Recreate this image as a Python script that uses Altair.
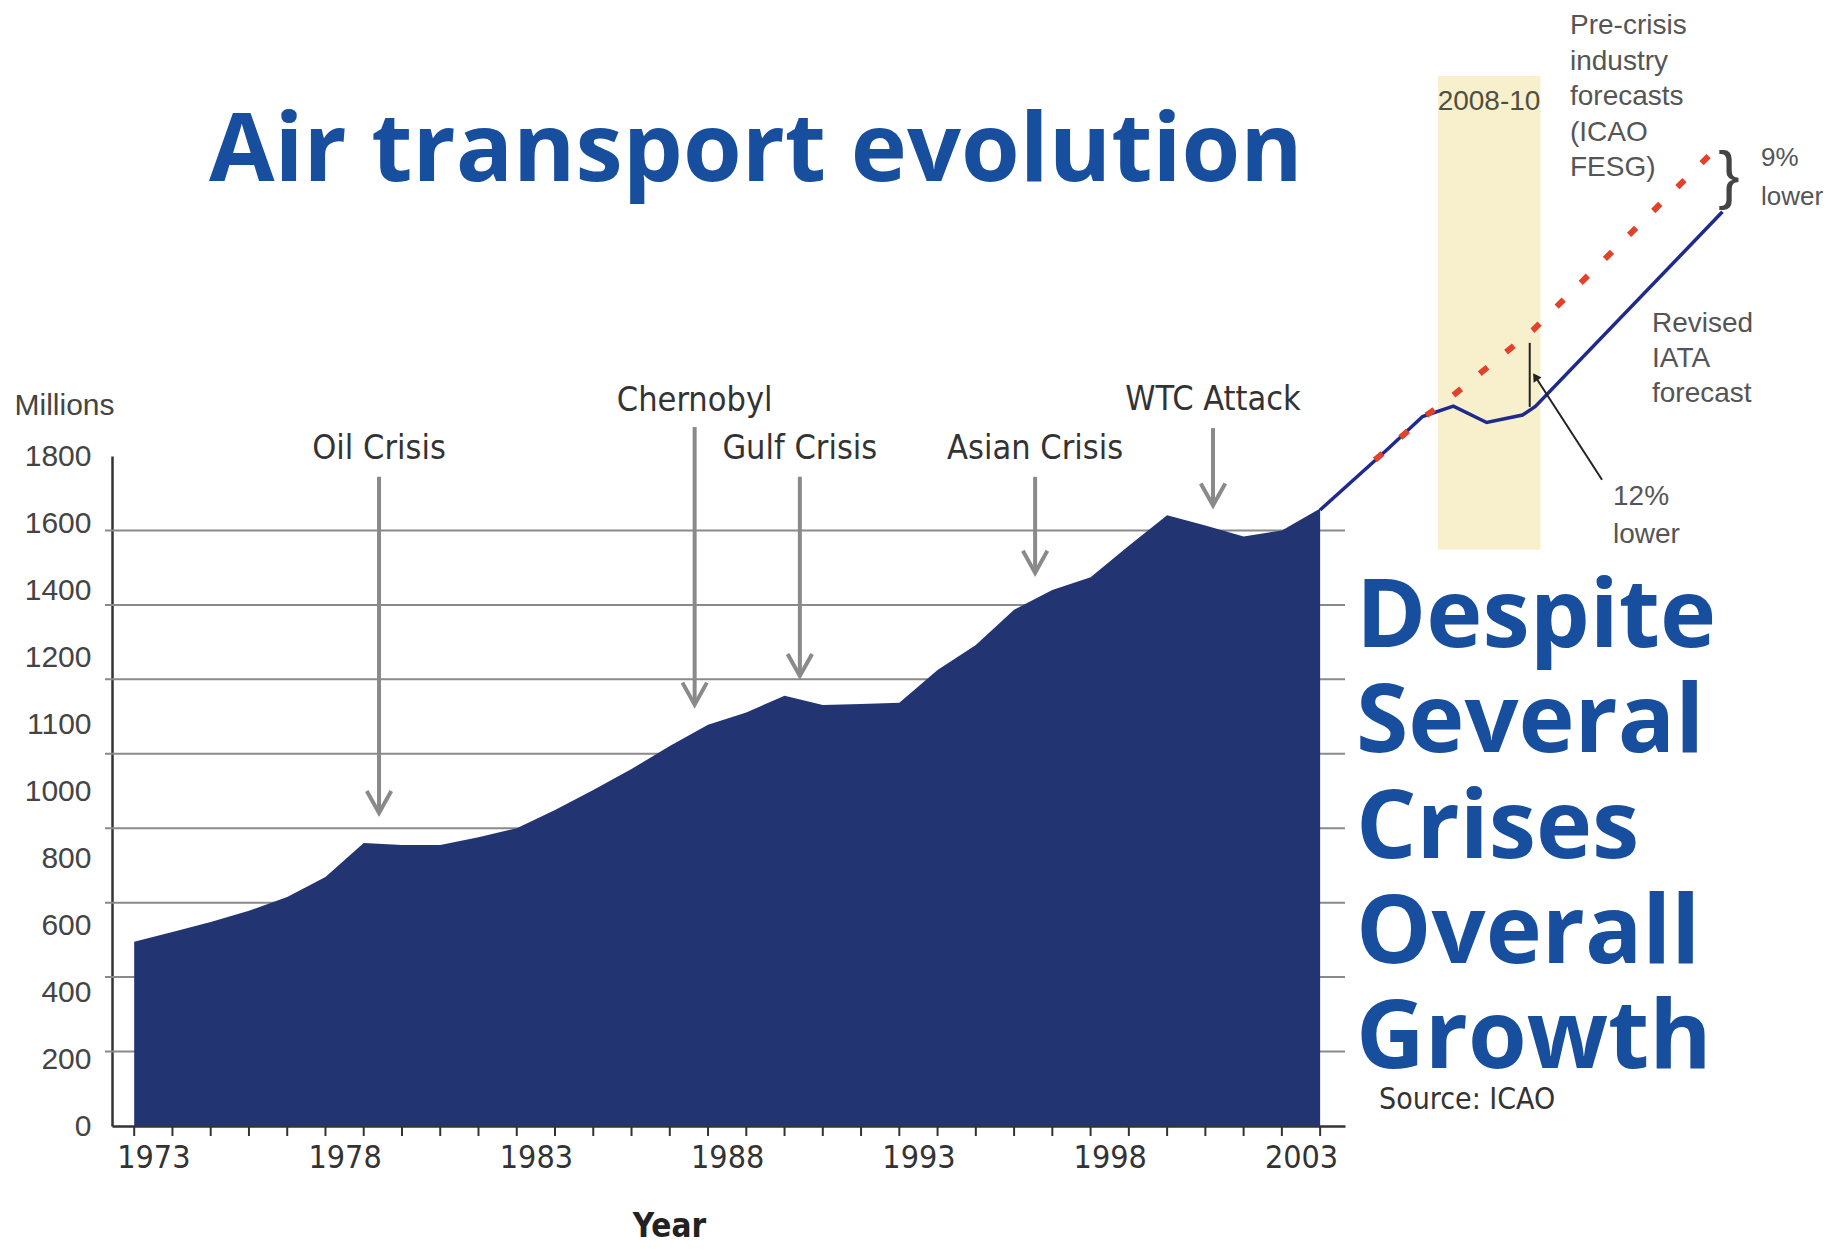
import altair as alt
import pandas as pd

# ---------------- data ----------------
YEARS = list(range(1973, 2005))
PASSENGERS = [495, 521, 548, 578, 615, 669, 760, 755, 755, 776, 800, 849, 903, 959,
              1021, 1078, 1111, 1156, 1131, 1134, 1137, 1225, 1292, 1387, 1440, 1474,
              1559, 1641, 1613, 1584, 1600, 1659]

Y_TICK_LABELS = ['0', '200', '400', '600', '800', '1000', '1100', '1200', '1400', '1600', '1800']
GRID_VALUES = [200, 400, 600, 800, 1000, 1200, 1400, 1600]
X_LABEL_YEARS = [1973, 1978, 1983, 1988, 1993, 1998, 2003]

CRISIS_NAMES = ['Oil Crisis', 'Chernobyl', 'Gulf Crisis', 'Asian Crisis', 'WTC Attack']
CRISIS_X = [1979.4, 1987.65, 1990.4, 1996.55, 2001.2]
CRISIS_TEXT_Y = [1819, 1948, 1819, 1819, 1950]
CRISIS_ARROW_TOP = [1744, 1878, 1744, 1744, 1875]
CRISIS_ARROW_TIP = [841, 1132, 1209, 1486, 1667]

# forecast inset (its own year axis)
FC_BLUE_X = [2005.7, 2007.0, 2007.7, 2008.3, 2008.95, 2009.65, 2009.9, 2013.55]
FC_BLUE_Y = [1655, 1816, 1906, 1934, 1890, 1910, 1933, 2456]
FC_RED_X = [2006.77, 2007.7, 2008.2, 2009.86, 2013.37]
FC_RED_Y = [1789, 1902, 1952, 2139, 2618]
BAND_X = [2008, 2010]
BAND_Y = [1548, 2821]
BRACKET_X = [2009.79]
BRACKET_Y = [1932, 2104]
ARROW12_X = [2011.2, 2009.9]
ARROW12_Y = [1736, 2013]

TITLE = 'Air transport evolution'
SLOGAN = 'Despite\nSeveral\nCrises\nOverall\nGrowth'

# ---------------- styling ----------------
W, H = 1233, 670
X_MIN, X_MAX = 1972.42, 2004.65
PX_PER_YEAR = W / (X_MAX - X_MIN)
INSET_ANCHOR = 2007.08   # main-axis position of the inset's 2008
INSET_STRETCH = 1.34     # main-axis years per inset year
BLUE = '#184e9e'
NAVY = '#233473'
NARROW = 'Liberation Sans Narrow, Arial Narrow, DejaVu Sans Condensed, Liberation Sans, sans-serif'
SANS = 'Liberation Sans, Arial, sans-serif'
BOLD = 'Open Sans, DejaVu Sans, sans-serif'

yscale = alt.Scale(domain=[0, 1800], nice=False, zero=False)
xscale = alt.Scale(domain=[X_MIN, X_MAX], nice=False, zero=False)

label_expr_y = '[' + ','.join("'%s'" % s for s in Y_TICK_LABELS) + '][round(datum.value / 180)]'


def inset(field):
    return '%s + (datum.%s - 2008) * %s' % (INSET_ANCHOR, field, INSET_STRETCH)


df = pd.DataFrame({'year': YEARS, 'value': PASSENGERS})
grid_df = pd.DataFrame({'g': GRID_VALUES})
tick_df = pd.DataFrame({'t': YEARS})
crisis_df = pd.DataFrame({'name': CRISIS_NAMES, 'x': CRISIS_X, 'ty': CRISIS_TEXT_Y,
                          'top': CRISIS_ARROW_TOP, 'tip': CRISIS_ARROW_TIP})

grid = alt.Chart(grid_df).mark_rule(color='#8a8a8a', strokeWidth=2).encode(
    x=alt.value(-7), x2=alt.value(W),
    y=alt.Y('g:Q', scale=yscale))

# one tick mark per year below the x axis
year_ticks = alt.Chart(tick_df).mark_rule(color='#333', strokeWidth=2).encode(
    x=alt.X('t:Q', scale=xscale),
    y=alt.value(H), y2=alt.value(H + 10))

area = alt.Chart(df).mark_area(color=NAVY, opacity=1).encode(
    x=alt.X('year:Q', scale=xscale,
            axis=alt.Axis(values=X_LABEL_YEARS, format='d',
                          labelOffset=PX_PER_YEAR / 2,
                          grid=False, ticks=False,
                          domainColor='#333', domainWidth=2.5, labelFont=NARROW,
                          labelFontSize=32, labelColor='#333', labelPadding=16,
                          labelBaseline='top', labelFlush=False, labelOverlap=False,
                          title='Year', titleFont=NARROW, titleFontSize=33,
                          titleFontWeight='bold', titleColor='#222', titleX=557, titleY=100,
                          titleBaseline='middle', titleAlign='center')),
    y=alt.Y('value:Q', scale=yscale,
            axis=alt.Axis(values=[i * 180 for i in range(11)],
                          labelExpr=label_expr_y,
                          ticks=False, grid=False, domainColor='#333', domainWidth=2.5,
                          labelFont=SANS, labelFontSize=30, labelColor='#444',
                          labelPadding=21, labelOverlap=False, labelFlush=False,
                          title='Millions', titleAngle=0, titleX=-98, titleY=-51,
                          titleAlign='left', titleBaseline='middle', titleFont=SANS,
                          titleFontSize=30, titleFontWeight='normal', titleColor='#444')))

shafts = alt.Chart(crisis_df).mark_rule(color='#8a8a8a', strokeWidth=4).encode(
    x=alt.X('x:Q', scale=xscale),
    y=alt.Y('top:Q', scale=yscale), y2='tip:Q')
heads = alt.Chart(crisis_df).mark_point(shape='M-1,-1.8L0,0L1,-1.8', filled=False,
                                        strokeWidth=4, size=600, color='#8a8a8a',
                                        opacity=1).encode(
    x=alt.X('x:Q', scale=xscale),
    y=alt.Y('tip:Q', scale=yscale))
crisis_text = alt.Chart(crisis_df).mark_text(font=NARROW, fontSize=34, color='#333',
                                             baseline='middle', align='center').encode(
    x=alt.X('x:Q', scale=xscale),
    y=alt.Y('ty:Q', scale=yscale), text='name:N')


def label(text, x, y, size=28, align='left', lh=35.5, color='#555', font=SANS,
          weight='normal', baseline='middle'):
    return alt.Chart(pd.DataFrame({'t': [text]})).mark_text(
        font=font, fontSize=size, color=color, align=align, baseline=baseline,
        fontWeight=weight, lineBreak='\n', lineHeight=lh).encode(
        x=alt.value(x), y=alt.value(y), text='t:N')


title = label(TITLE, 97, -275, size=95, color=BLUE, font=BOLD, weight='bold',
              baseline='alphabetic')
slogan = label(SLOGAN, 1244, 191, size=95, color=BLUE, font=BOLD, weight='bold',
               baseline='alphabetic', lh=105.3)
source = label('Source: ICAO', 1267, 644, size=30, color='#333', font=NARROW)

# ---------------- forecast inset ----------------
band = alt.Chart(pd.DataFrame({'x0': [BAND_X[0]], 'x1': [BAND_X[1]],
                               'y0': [BAND_Y[0]], 'y1': [BAND_Y[1]]})).transform_calculate(
    mx0=inset('x0'), mx1=inset('x1')).mark_rect(color='#f8f0cd').encode(
    x=alt.X('mx0:Q', scale=xscale), x2='mx1:Q',
    y=alt.Y('y0:Q', scale=yscale), y2='y1:Q')
blue = alt.Chart(pd.DataFrame({'x': FC_BLUE_X, 'v': FC_BLUE_Y})).transform_calculate(
    mx=inset('x')).mark_line(color='#1e2a8c', strokeWidth=3.5).encode(
    x=alt.X('mx:Q', scale=xscale),
    y=alt.Y('v:Q', scale=yscale))
red = alt.Chart(pd.DataFrame({'x': FC_RED_X, 'v': FC_RED_Y})).transform_calculate(
    mx=inset('x')).mark_line(color='#e2412b', strokeWidth=6, strokeDash=[10, 24]).encode(
    x=alt.X('mx:Q', scale=xscale),
    y=alt.Y('v:Q', scale=yscale))
bracket = alt.Chart(pd.DataFrame({'x': BRACKET_X, 'y0': [BRACKET_Y[0]],
                                  'y1': [BRACKET_Y[1]]})).transform_calculate(
    mx=inset('x')).mark_rule(color='#222', strokeWidth=2).encode(
    x=alt.X('mx:Q', scale=xscale),
    y=alt.Y('y0:Q', scale=yscale), y2='y1:Q')
arrow12 = alt.Chart(pd.DataFrame({'x0': [ARROW12_X[0]], 'x1': [ARROW12_X[1]],
                                  'y0': [ARROW12_Y[0]], 'y1': [ARROW12_Y[1]]})).transform_calculate(
    mx0=inset('x0'), mx1=inset('x1')).mark_rule(color='#222', strokeWidth=2).encode(
    x=alt.X('mx0:Q', scale=xscale), x2='mx1:Q',
    y=alt.Y('y0:Q', scale=yscale), y2='y1:Q')
arrow12_head = alt.Chart(pd.DataFrame({'x': [ARROW12_X[1]], 'v': [ARROW12_Y[1]]})).transform_calculate(
    mx=inset('x')).mark_point(shape='triangle-up', angle=327, filled=True, size=90,
                              color='#222', opacity=1).encode(
    x=alt.X('mx:Q', scale=xscale),
    y=alt.Y('v:Q', scale=yscale))

notes = [
    label('2008-10', 1377, -354, align='center', color='#4f4f40'),
    label('Pre-crisis\nindustry\nforecasts\n(ICAO\nFESG)', 1458, -430),
    label('9%\nlower', 1649, -298, size=26, lh=39),
    label('Revised\nIATA\nforecast', 1540, -132, lh=35),
    label('12%\nlower', 1501, 41, lh=38),
    label('}', 1617, -278, size=64, align='center', color='#444'),
]

chart = alt.layer(
    grid, band, area, year_ticks, blue, red, bracket, arrow12, arrow12_head,
    shafts, heads, crisis_text, title, slogan, source, *notes
).properties(
    width=W, height=H,
    autosize=alt.AutoSizeParams(type='none'),
    padding={'left': 104, 'top': 448, 'right': 482, 'bottom': 118},
    background='white',
).configure_view(stroke=None)

chart.save('out.html', embed_options={'renderer': 'svg', 'actions': False})
